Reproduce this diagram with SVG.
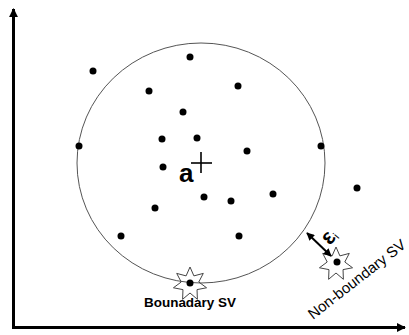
<svg xmlns="http://www.w3.org/2000/svg" width="409" height="335" viewBox="0 0 409 335">
<style>
.dot{fill:#000}
.star{fill:none;stroke:#444;stroke-width:1}
.axis{stroke:#000;stroke-width:3;fill:none}
.lbl{font-family:"Liberation Sans",Arial,sans-serif;fill:#000}
</style>
<defs>
<marker id="ah" viewBox="0 0 10 10" refX="9" refY="5" markerWidth="4" markerHeight="4" orient="auto-start-reverse"><path d="M0,0 L10,5 L0,10 z" fill="#000"/></marker>
<marker id="ax" viewBox="0 0 10 10" refX="9" refY="5" markerWidth="3" markerHeight="3" orient="auto"><path d="M0,0 L10,5 L0,10 z" fill="#000"/></marker>
<polygon id="star7" points="0,-17 3.9,-8.11 13.29,-10.6 8.77,-2 16.57,3.78 7.04,5.61 7.38,15.32 0,9 -7.38,15.32 -7.04,5.61 -16.57,3.78 -8.77,-2 -13.29,-10.6 -3.9,-8.11"/>
</defs>
<rect width="409" height="335" fill="#fff"/>
<g id="axes">
<line class="axis" x1="13.5" y1="328" x2="13.5" y2="9" marker-end="url(#ax)"/>
<line class="axis" x1="12" y1="327.5" x2="405" y2="327.5" marker-end="url(#ax)"/>
</g>
<g id="ball">
<ellipse cx="201" cy="163" rx="124" ry="120" fill="none" stroke="#555" stroke-width="1"/>
</g>
<g id="center">
<text class="lbl" x="179" y="182" font-size="26" font-weight="bold">a</text>
<line x1="191" y1="163" x2="212" y2="163" stroke="#000" stroke-width="1.6"/>
<line x1="201" y1="152" x2="201" y2="173" stroke="#000" stroke-width="1.6"/>
</g>
<g id="points">
<circle class="dot" cx="93" cy="71" r="3.5"/>
<circle class="dot" cx="190" cy="57" r="3.5"/>
<circle class="dot" cx="149" cy="91" r="3.5"/>
<circle class="dot" cx="238" cy="86" r="3.5"/>
<circle class="dot" cx="183" cy="112" r="3.5"/>
<circle class="dot" cx="162" cy="139" r="3.5"/>
<circle class="dot" cx="197" cy="138" r="3.5"/>
<circle class="dot" cx="79" cy="146" r="3.5"/>
<circle class="dot" cx="321" cy="146" r="3.5"/>
<circle class="dot" cx="247" cy="151" r="3.5"/>
<circle class="dot" cx="163" cy="167" r="3.5"/>
<circle class="dot" cx="204" cy="197" r="3.5"/>
<circle class="dot" cx="231" cy="201" r="3.5"/>
<circle class="dot" cx="273" cy="194" r="3.5"/>
<circle class="dot" cx="155" cy="208" r="3.5"/>
<circle class="dot" cx="357" cy="188" r="3.5"/>
<circle class="dot" cx="121" cy="236" r="3.5"/>
<circle class="dot" cx="239" cy="236" r="3.5"/>
</g>
<g id="boundary-sv">
<use href="#star7" class="star" x="190" y="284"/>
<circle class="dot" cx="190" cy="283" r="3.5"/>
<text class="lbl" x="190" y="307" font-size="12.5" font-weight="bold" text-anchor="middle" textLength="92" lengthAdjust="spacingAndGlyphs">Bounadary SV</text>
</g>
<g id="nonboundary-sv">
<use href="#star7" class="star" x="336" y="264"/>
<circle class="dot" cx="337" cy="262" r="3.5"/>
<text class="lbl" transform="translate(313,320) rotate(-38)" font-size="15">Non-boundary SV</text>
</g>
<g id="connectors">
<line x1="307" y1="233" x2="331" y2="256" stroke="#000" stroke-width="2" marker-start="url(#ah)" marker-end="url(#ah)"/>
<text class="lbl" transform="translate(330,246) rotate(-50)" font-size="22" font-weight="bold">ε<tspan font-size="11" font-weight="normal" dy="2">i</tspan></text>
</g>
</svg>
